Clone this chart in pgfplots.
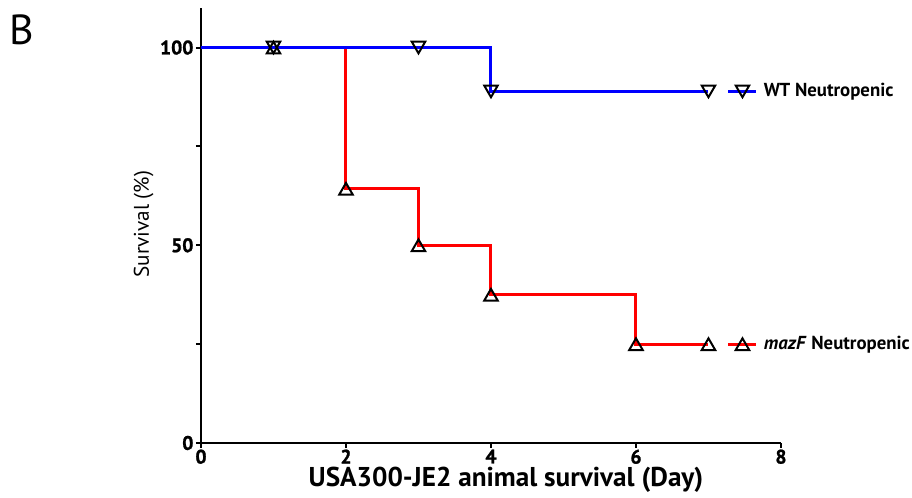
\documentclass[border=0pt]{standalone}
\usepackage{pgfplots}
\pgfplotsset{compat=1.18}
\usepackage{fontspec}
\setmainfont{PT Sans}
\newfontfamily\heavyfont{PT Sans}[BoldFeatures={FakeBold=1.2}]

\pgfplotsset{
  kmlegend/.style={
    legend image code/.code={
      \draw[##1, mark=none] (0pt,0pt) -- (14pt,0pt);
      \draw[##1] plot coordinates {(7pt,0pt)};
    },
    legend style={draw=none, fill=none, inner sep=0pt, outer sep=0pt,
      font=\bfseries\fontsize{9.4}{10}\selectfont,
      nodes={inner sep=1pt}, column sep=2pt},
    legend cell align=left,
  },
  commonax/.style={
    at={(0,0)}, anchor=south west,
    width=290pt, height=217.5pt, scale only axis,
    xmin=0, xmax=8, ymin=0, ymax=110,
    clip=false,
  }
}

\begin{document}
\begin{tikzpicture}
\path[use as bounding box] (-100.5pt,-27.5pt) rectangle (355.5pt,221.5pt);
\node[anchor=base west, font=\fontsize{21}{22}\selectfont, inner sep=0pt] at (-96pt,199pt) {B};
\begin{axis}[
  commonax, kmlegend,
  axis x line=bottom, axis y line=left,
  axis line style={-, line width=1pt},
  xtick={0,2,4,6,8}, ytick={0,50,100}, minor ytick={25,75},
  tick align=outside, major tick length=2.6pt, minor tick length=2.6pt,
  tick style={line width=1pt, black},
  /pgf/number format/assume math mode=true,
  xticklabel={\pgfmathtruncatemacro\tk{\tick}\tk},
  yticklabel={\pgfmathtruncatemacro\tk{\tick}\tk},
  xticklabel style={font=\heavyfont\bfseries\fontsize{9.8}{10}\selectfont, inner sep=0.5pt},
  yticklabel style={font=\heavyfont\bfseries\fontsize{9.8}{10}\selectfont, inner sep=1pt},
  xlabel={USA300-JE2 animal survival (Day)},
  ylabel={Survival (\%)},
  every axis x label/.style={at={([yshift=-22pt]axis description cs:0.526,0)}, anchor=base,
    font=\bfseries\fontsize{13.6}{14}\selectfont},
  every axis y label/.style={at={([xshift=-26pt]axis description cs:0,0.503)}, rotate=90, anchor=base,
    font=\fontsize{10.6}{11}\selectfont},
  legend style={at={(axis cs:7.255,88.9)}, anchor=west},
]
\addlegendimage{blue, line width=1.5pt, mark=triangle, mark size=3.9pt,
  mark options={black, line width=1pt, rotate=180, yshift=-1pt}}
\addlegendentry{WT Neutropenic}
\addplot[red, line width=1.5pt, const plot mark left, forget plot]
  coordinates {(0,100)(2,64.3)(3,50)(4,37.5)(6,25)(7,25)};
\addplot[blue, line width=1.5pt, const plot mark left, forget plot]
  coordinates {(0,100)(4,88.9)(7,88.9)};
\addplot[only marks, mark=triangle, mark size=3.9pt, mark options={black, line width=1pt, yshift=-1pt}, forget plot]
  coordinates {(1,100)(2,64.3)(3,50)(4,37.5)(6,25)(7,25)};
\addplot[only marks, mark=triangle, mark size=3.9pt, mark options={black, line width=1pt, rotate=180, yshift=-1pt}, forget plot]
  coordinates {(1,100)(3,100)(4,88.9)(7,88.9)};
\end{axis}
\begin{axis}[
  commonax, kmlegend, hide axis,
  legend style={at={(axis cs:7.255,25)}, anchor=west},
]
\addlegendimage{red, line width=1.5pt, mark=triangle, mark size=3.9pt,
  mark options={black, line width=1pt, yshift=-1pt}}
\addlegendentry{\textit{mazF} Neutropenic}
\end{axis}
\end{tikzpicture}
\end{document}
